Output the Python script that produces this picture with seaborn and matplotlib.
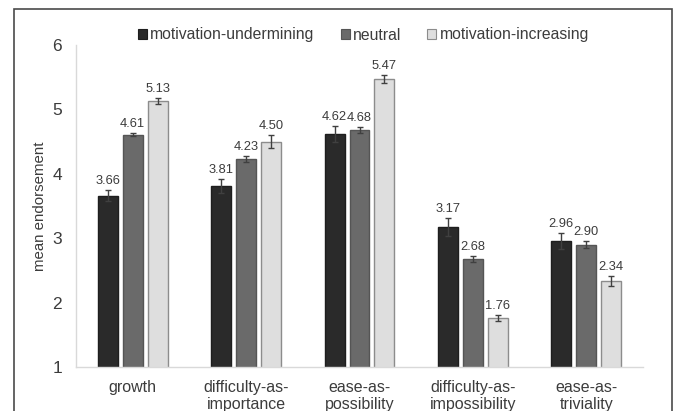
import matplotlib
matplotlib.use("Agg")
import matplotlib.pyplot as plt
from matplotlib.patches import Patch, Rectangle
import seaborn as sns
import pandas as pd
import numpy as np

# Mindset categories and prime conditions
categories = ["growth", "difficulty-as-\nimportance", "ease-as-\npossibility",
              "difficulty-as-\nimpossibility", "ease-as-\ntriviality"]
conditions = ["motivation-undermining", "neutral", "motivation-increasing"]

# Mean endorsement per condition (one value per category)
undermining = [3.66, 3.81, 4.62, 3.17, 2.96]
neutral = [4.61, 4.23, 4.68, 2.68, 2.90]
increasing = [5.13, 4.50, 5.47, 1.76, 2.34]

# Standard errors
err_undermining = [0.09, 0.11, 0.12, 0.14, 0.12]
err_neutral = [0.03, 0.04, 0.05, 0.05, 0.05]
err_increasing = [0.05, 0.10, 0.06, 0.04, 0.08]

yticks = [1, 2, 3, 4, 5, 6]

means = [undermining, neutral, increasing]
errs = [err_undermining, err_neutral, err_increasing]
rows = []
for cond, vals, es in zip(conditions, means, errs):
    for cat, v, e in zip(categories, vals, es):
        rows.append({"category": cat, "condition": cond, "mean": v, "se": e})
df = pd.DataFrame(rows)

fills = ["#2a2a2a", "#6a6a6a", "#dedede"]
edges = ["#1e1e1e", "#555555", "#8c8c8c"]
text_color = "#3c3c3c"

sns.set_theme(style="white")
plt.rcParams["font.family"] = ["Liberation Sans", "DejaVu Sans"]

fig = plt.figure(figsize=(6.73, 4.11), dpi=100)
ax = fig.add_axes([76 / 673, 1 - 367 / 411, (643 - 76) / 673, (367 - 45) / 411])

sns.barplot(data=df, x="category", y="mean", hue="condition",
            order=categories, hue_order=conditions, palette=fills,
            width=0.66, gap=0.2, errorbar=None, legend=False, ax=ax,
            bottom=0)

# Style bars, add error bars and value labels
bars = ax.patches
for i, cond in enumerate(conditions):
    sub = df[df["condition"] == cond].set_index("category").loc[categories]
    for j, cat in enumerate(categories):
        bar = bars[i * len(categories) + j]
        bar.set_edgecolor(edges[i])
        bar.set_linewidth(1.0)
        x = bar.get_x() + bar.get_width() / 2
        m = sub.loc[cat, "mean"]
        e = sub.loc[cat, "se"]
        ax.errorbar(x, m, yerr=e, fmt="none", ecolor="#404040",
                    elinewidth=1.0, capsize=2.5, capthick=1.0, zorder=5)
        ax.annotate(f"{m:.2f}", (x, m + e), xytext=(0, 9),
                    textcoords="offset pixels", ha="center", va="center",
                    fontsize=9.3, color=text_color)

ax.set_ylim(1, 6)
ax.set_xlim(-0.5, 4.5)
ax.set_yticks(yticks)
ax.set_yticklabels([str(t) for t in yticks], fontsize=12.5, color=text_color)
ax.tick_params(axis="y", length=0, pad=10)
ax.tick_params(axis="x", length=0, pad=9, labelsize=11.5, labelcolor=text_color)
ax.set_xlabel("")
ax.set_ylabel("mean endorsement", fontsize=10.8, color=text_color, labelpad=4)

for side in ["top", "right"]:
    ax.spines[side].set_visible(False)
for side in ["left", "bottom"]:
    ax.spines[side].set_color("#d9d9d9")
    ax.spines[side].set_linewidth(1.0)

handles = [Patch(facecolor=f, edgecolor=e, linewidth=0.8)
           for f, e in zip(fills, edges)]
fig.legend(handles, conditions, loc="center", ncol=3, frameon=False,
           bbox_to_anchor=(363.5 / 673, 1 - 35 / 411),
           fontsize=11.3, handlelength=0.58, handleheight=0.58,
           handletextpad=0.2, columnspacing=1.66, labelcolor=text_color)

# Outer frame around the figure (open at the bottom edge)
fig.add_artist(Rectangle((14 / 673, -0.05), (671.5 - 14) / 673, 1.05 - 9.5 / 411,
                         transform=fig.transFigure, fill=False,
                         edgecolor="#4a4a4a", linewidth=1.2, clip_on=False))

fig.savefig("out.png", dpi=100)
